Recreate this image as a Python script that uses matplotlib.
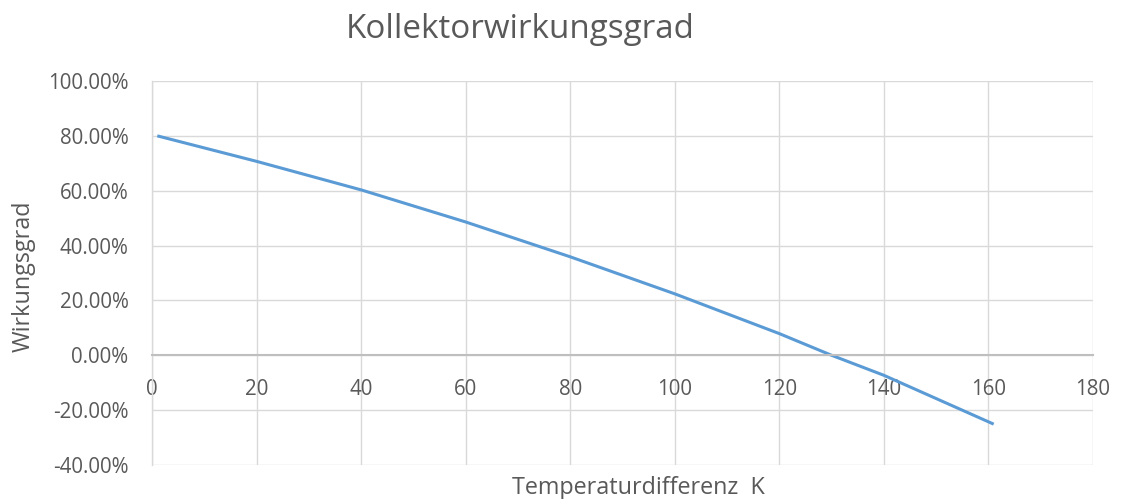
import matplotlib.pyplot as plt
from matplotlib.ticker import MultipleLocator, FuncFormatter

plt.rcParams['font.family'] = ['Open Sans', 'DejaVu Sans']

# Temperaturdifferenz (K) and Wirkungsgrad (%)
temp_diff = [1, 20, 40, 60, 80, 100, 120, 130, 140, 161]
efficiency = [80.0, 70.7, 60.3, 48.6, 35.9, 22.4, 7.9, 0.0, -7.3, -25.1]

title = 'Kollektorwirkungsgrad'
xlabel = 'Temperaturdifferenz  K'
ylabel = 'Wirkungsgrad'

grey_text = '#595959'
grid_col = '#d9d9d9'

fig = plt.figure(figsize=(11.23, 4.99), dpi=100)
ax = fig.add_axes([0.1354, 0.0681, 0.8379, 0.7696])

ax.plot(temp_diff, efficiency, color='#5b9bd5', linewidth=2.2, solid_capstyle='butt')

ax.set_xlim(0, 180)
ax.set_ylim(-40, 100)
ax.xaxis.set_major_locator(MultipleLocator(20))
ax.yaxis.set_major_locator(MultipleLocator(20))
ax.yaxis.set_major_formatter(FuncFormatter(lambda v, p: '%.2f%%' % v))

ax.grid(True, color=grid_col, linewidth=1.0)
ax.set_axisbelow(True)

for s in ['top', 'right']:
    ax.spines[s].set_visible(False)
ax.spines['left'].set_color(grid_col)
ax.spines['left'].set_linewidth(1.0)
ax.spines['bottom'].set_position(('data', 0))
ax.spines['bottom'].set_color('#bfbfbf')
ax.spines['bottom'].set_linewidth(1.5)

ax.tick_params(axis='both', length=0, labelsize=14.8, labelcolor=grey_text)
ax.tick_params(axis='x', pad=17)
ax.tick_params(axis='y', pad=17)

fig.text(520 / 1123, 1 - 30 / 499, title, ha='center', va='center',
         fontsize=23.9, color=grey_text)
fig.text(638 / 1123, 1 - 488 / 499, xlabel, ha='center', va='center',
         fontsize=16.8, color=grey_text)
fig.text(24 / 1123, 1 - 276 / 499, ylabel, ha='center', va='center',
         rotation=90, fontsize=16.8, color=grey_text)

fig.savefig('out.png', dpi=100)
